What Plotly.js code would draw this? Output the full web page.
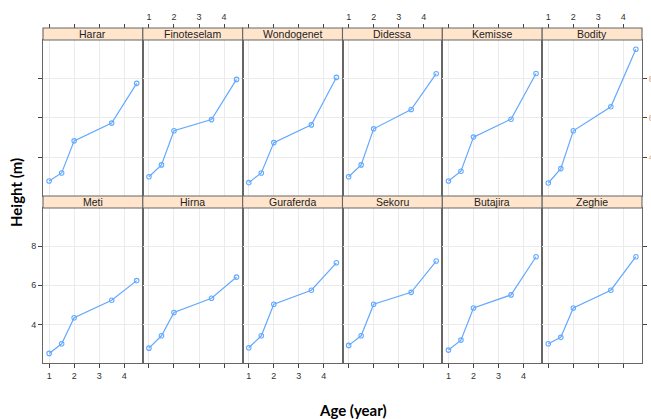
<!DOCTYPE html>
<html>
<head>
<meta charset="utf-8">
<script src="https://cdn.plot.ly/plotly-3.0.1.min.js"></script>
<style>html,body{margin:0;padding:0;background:#fff;}#chart{width:651px;height:419px;}</style>
</head>
<body>
<div id="chart"></div>
<script>
// ---- data ----
const age = [1, 1.5, 2, 3.5, 4.5];
const sites = ['Harar','Finoteselam','Wondogenet','Didessa','Kemisse','Bodity',
               'Meti','Hirna','Guraferda','Sekoru','Butajira','Zeghie'];
const Harar       = [2.79, 3.20, 4.83, 5.73, 7.75];
const Finoteselam = [3.01, 3.61, 5.34, 5.91, 7.95];
const Wondogenet  = [2.71, 3.20, 4.74, 5.64, 8.05];
const Didessa     = [3.01, 3.61, 5.44, 6.42, 8.24];
const Kemisse     = [2.79, 3.29, 5.02, 5.93, 8.25];
const Bodity      = [2.69, 3.42, 5.34, 6.56, 9.48];
const Meti        = [2.52, 3.01, 4.34, 5.24, 6.24];
const Hirna       = [2.79, 3.42, 4.61, 5.34, 6.42];
const Guraferda   = [2.81, 3.42, 5.03, 5.75, 7.15];
const Sekoru      = [2.93, 3.42, 5.03, 5.64, 7.24];
const Butajira    = [2.69, 3.20, 4.84, 5.51, 7.46];
const Zeghie      = [3.01, 3.34, 4.84, 5.75, 7.46];
const heights = [Harar, Finoteselam, Wondogenet, Didessa, Kemisse, Bodity,
                 Meti, Hirna, Guraferda, Sekoru, Butajira, Zeghie];
const xTicks = [1, 2, 3, 4];
const yTicks = [4, 6, 8];
const xLabel = 'Age (year)';
const yLabel = 'Height (m)';

// ---- layout geometry (pixels) ----
const W = 651, H = 419;
const left = 43, right = 642;
const colW = (right - left) / 6;
const rowsPx = [{strip0: 28, p0: 40, p1: 196}, {strip0: 196, p0: 208, p1: 363}];
const border = '#666666';
const lineCol = '#62a9ff';
const tickFont = {family: 'Liberation Sans, Arial, sans-serif', size: 9, color: '#333'};
const xRange = [0.755, 4.745];
const yRange = [2.03, 9.95];

const data = [];
const layout = {
  width: W, height: H,
  margin: {l: 0, r: 0, t: 0, b: 0},
  paper_bgcolor: '#fff', plot_bgcolor: '#fff',
  showlegend: false,
  shapes: [], annotations: []
};

const ax = n => (n === 1 ? '' : String(n));

sites.forEach((name, i) => {
  const r = Math.floor(i / 6), c = i % 6;
  const n = i + 1;
  const x0 = left + c * colW, x1 = x0 + colW;
  const g = rowsPx[r];
  data.push({
    x: age, y: heights[i], xaxis: 'x' + ax(n), yaxis: 'y' + ax(n),
    type: 'scatter', mode: 'lines+markers',
    line: {color: lineCol, width: 1.2},
    marker: {symbol: 'circle-open', size: 4.5, color: lineCol, line: {width: 1.1, color: lineCol}},
    hoverinfo: 'skip'
  });
  layout['xaxis' + ax(n)] = {
    domain: [x0 / W, x1 / W],
    anchor: 'y' + ax(n),
    range: xRange,
    tickvals: xTicks,
    ticktext: xTicks.map(String),
    side: 'bottom',
    ticks: r === 1 ? 'outside' : '', ticklen: 4, tickwidth: 1, tickcolor: '#444',
    showticklabels: r === 1 && c % 2 === 0,
    tickfont: tickFont,
    showgrid: true, gridcolor: '#ebebeb', gridwidth: 1,
    zeroline: false,
    showline: true, mirror: true, linecolor: border, linewidth: 1,
    fixedrange: true
  };
  let yTickMode = '', yLab = false, ySide = 'left', yFontCol = '#333';
  if (c === 0) { yTickMode = 'outside'; yLab = (r === 1); ySide = 'left'; }
  if (c === 5) { yTickMode = 'outside'; yLab = (r === 0); ySide = 'right'; yFontCol = '#dca066'; }
  layout['yaxis' + ax(n)] = {
    domain: [1 - g.p1 / H, 1 - g.p0 / H],
    anchor: 'x' + ax(n),
    range: yRange,
    tickvals: yTicks,
    ticktext: yTicks.map(String),
    side: ySide,
    ticks: yTickMode, ticklen: 4, tickwidth: 1, tickcolor: '#444',
    showticklabels: yLab,
    tickfont: Object.assign({}, tickFont, {color: yFontCol}),
    showgrid: true, gridcolor: '#ebebeb', gridwidth: 1,
    zeroline: false,
    showline: true, mirror: true, linecolor: border, linewidth: 1,
    fixedrange: true
  };
  // strip
  layout.shapes.push({
    type: 'rect', xref: 'paper', yref: 'paper',
    x0: x0 / W, x1: x1 / W, y0: 1 - g.p0 / H, y1: 1 - g.strip0 / H,
    fillcolor: '#ffe5cc', line: {color: border, width: 1.1}, layer: 'above'
  });
  layout.annotations.push({
    xref: 'paper', yref: 'paper',
    x: (x0 + x1) / 2 / W, y: 1 - (g.strip0 + g.p0) / 2 / H,
    text: name, showarrow: false, xanchor: 'center', yanchor: 'middle',
    font: {family: 'Liberation Sans, Arial, sans-serif', size: 10.5, color: '#222'}
  });
});

// top-row x axes placed above the strips (lattice style)
for (let c = 0; c < 6; c++) {
  const n = 13 + c;
  const base = 1 + c;
  layout['xaxis' + n] = {
    overlaying: 'x' + ax(base),
    anchor: 'free',
    position: 1 - rowsPx[0].strip0 / H,
    domain: layout['xaxis' + ax(base)].domain,
    range: xRange,
    tickvals: xTicks,
    ticktext: xTicks.map(String),
    side: 'top',
    ticks: 'outside', ticklen: 4, tickwidth: 1, tickcolor: '#444',
    showticklabels: c % 2 === 1,
    tickfont: tickFont,
    showgrid: false, zeroline: false, showline: false,
    fixedrange: true
  };
  data.push({
    x: [null], y: [null], xaxis: 'x' + n, yaxis: 'y' + ax(base),
    type: 'scatter', mode: 'markers', hoverinfo: 'skip', showlegend: false
  });
}

layout.annotations.push({
  xref: 'paper', yref: 'paper', x: 353 / W, y: 1 - 410 / H,
  text: '<b>' + xLabel + '</b>', showarrow: false, xanchor: 'center', yanchor: 'middle',
  font: {family: 'Lato, Open Sans, sans-serif', size: 15, color: '#000'}
});
layout.annotations.push({
  xref: 'paper', yref: 'paper', x: 16 / W, y: 1 - 193 / H,
  text: '<b>' + yLabel + '</b>', showarrow: false, textangle: -90,
  xanchor: 'center', yanchor: 'middle',
  font: {family: 'Lato, Open Sans, sans-serif', size: 15, color: '#000'}
});

Plotly.newPlot('chart', data, layout, {displayModeBar: false, staticPlot: true});
</script>
</body>
</html>
